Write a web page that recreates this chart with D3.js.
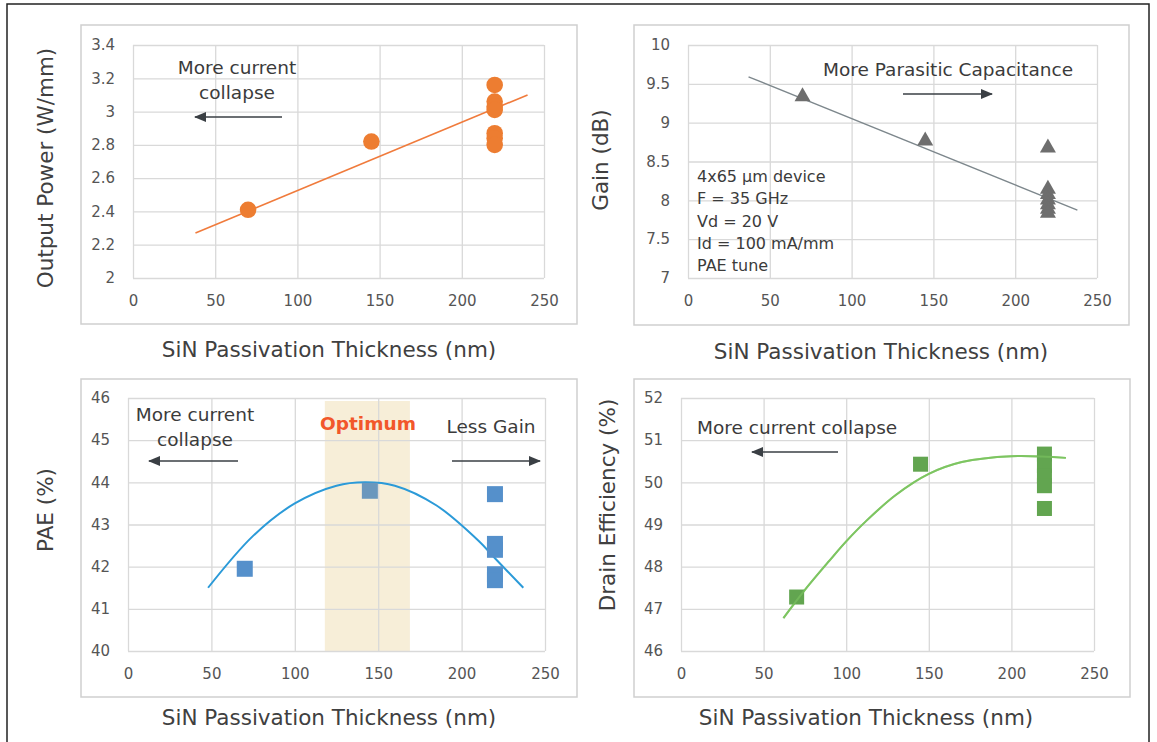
<!DOCTYPE html>
<html><head><meta charset="utf-8">
<script src="https://cdn.jsdelivr.net/npm/d3@7"></script>
<style>
html,body{margin:0;padding:0;background:#fff;}
svg text{font-family:"DejaVu Sans",Verdana,sans-serif;}
</style></head>
<body>
<svg id="c" width="1157" height="742"></svg>
<script>
// ---------- DATA ----------
const xTicks = [0, 50, 100, 150, 200, 250];
const xTitle = "SiN Passivation Thickness (nm)";

const powerTicks = [2, 2.2, 2.4, 2.6, 2.8, 3, 3.2, 3.4];
const powerX = [70, 145, 220, 220, 220, 220, 220, 220, 220];
const powerY = [2.41, 2.82, 3.16, 3.06, 3.03, 3.01, 2.87, 2.84, 2.80];
const powerTrendX = [38, 240];
const powerTrendY = [2.27, 3.10];

const gainTicks = [7, 7.5, 8, 8.5, 9, 9.5, 10];
const gainX = [70, 145, 220, 220, 220, 220, 220, 220, 220];
const gainY = [9.36, 8.79, 8.70, 8.17, 8.10, 8.03, 7.97, 7.91, 7.86];
const gainTrendX = [37, 238];
const gainTrendY = [9.59, 7.875];
const gainInfo = ["4x65 µm device", "F = 35 GHz", "Vd = 20 V", "Id = 100 mA/mm", "PAE tune"];

const paeTicks = [40, 41, 42, 43, 44, 45, 46];
const paeX = [70, 145, 220, 220, 220, 220, 220];
const paeY = [41.95, 43.8, 43.72, 42.54, 42.4, 41.82, 41.68];
const paeFitX = [48, 75, 100, 125, 142, 160, 185, 210, 220, 237];
const paeFitY = [41.5, 42.73, 43.5, 43.92, 44.0, 43.92, 43.45, 42.62, 42.2, 41.5];
const optimumRange = [118, 169];

const deTicks = [46, 47, 48, 49, 50, 51, 52];
const deX = [70, 145, 220, 220, 220, 220, 220];
const deY = [47.28, 50.43, 50.67, 50.4, 50.15, 49.92, 49.38];
const deFitX = [62, 75, 90, 100, 112, 130, 150, 170, 200, 233];
const deFitY = [46.78, 47.45, 48.15, 48.6, 49.08, 49.7, 50.2, 50.48, 50.62, 50.58];

// ---------- DRAW ----------
const svg = d3.select("#c");
svg.append("rect").attr("x", 7).attr("y", 4).attr("width", 1142).attr("height", 760)
  .attr("fill", "none").attr("stroke", "#222").attr("stroke-width", 1.5);

const defs = svg.append("defs");
defs.append("marker").attr("id", "ah").attr("viewBox", "0 0 12 10")
  .attr("refX", 11).attr("refY", 5).attr("markerWidth", 12).attr("markerHeight", 10)
  .attr("markerUnits", "userSpaceOnUse").attr("orient", "auto")
  .append("path").attr("d", "M0,0 L12,5 L0,10 Z").attr("fill", "#3a3f44");

function panel(o) {
  const g = svg.append("g");
  g.append("rect").attr("x", o.frame[0]).attr("y", o.frame[1])
    .attr("width", o.frame[2] - o.frame[0]).attr("height", o.frame[3] - o.frame[1])
    .attr("fill", "#fff").attr("stroke", "#cfcfcf").attr("stroke-width", 1.5);
  const x = d3.scaleLinear().domain([0, 250]).range([o.px[0], o.px[1]]);
  const y = d3.scaleLinear().domain([o.yTicks[0], o.yTicks[o.yTicks.length - 1]]).range([o.py[1], o.py[0]]);
  if (o.band) {
    g.append("rect").attr("x", x(o.band[0])).attr("y", o.bandTop)
      .attr("width", x(o.band[1]) - x(o.band[0])).attr("height", y(o.yTicks[0]) - o.bandTop)
      .attr("fill", "#f7eed8");
  }
  const gx = g.append("g").attr("transform", `translate(0,${o.py[1]})`)
    .call(d3.axisBottom(x).tickValues(xTicks).tickSize(-(o.py[1] - o.py[0])).tickPadding(17).tickFormat(d3.format("d")));
  const gy = g.append("g").attr("transform", `translate(${o.px[0]},0)`)
    .call(d3.axisLeft(y).tickValues(o.yTicks).tickSize(-(o.px[1] - o.px[0])).tickPadding(18).tickFormat(d => String(+d.toFixed(1))));
  [gx, gy].forEach(a => {
    a.select(".domain").remove();
    a.selectAll("line").attr("stroke", "#d9d9d9").attr("stroke-width", 1.3);
    a.selectAll("text").attr("fill", "#555").style("font-size", "15px");
  });
  gx.selectAll("text").attr("dy", "0.75em");
  g.append("text").attr("x", o.xt[0]).attr("y", o.xt[1]).attr("text-anchor", "middle")
    .attr("dominant-baseline", "central").attr("fill", "#404040").style("font-size", "21.5px").text(xTitle);
  g.append("text").attr("transform", `translate(${o.yt[0]},${o.yt[1]}) rotate(-90)`).attr("text-anchor", "middle")
    .attr("dominant-baseline", "central").attr("fill", "#404040").style("font-size", "21.5px").text(o.yTitle);
  return {g, x, y};
}

function line(g, x, y, xs, ys, color, w, curve) {
  g.append("path").datum(xs.map((d, i) => [d, ys[i]]))
    .attr("d", d3.line().x(d => x(d[0])).y(d => y(d[1])).curve(curve || d3.curveLinear))
    .attr("fill", "none").attr("stroke", color).attr("stroke-width", w);
}
function arrow(x1, y1, x2, y2) {
  svg.append("line").attr("x1", x1).attr("y1", y1).attr("x2", x2).attr("y2", y2)
    .attr("stroke", "#3a3f44").attr("stroke-width", 1.6).attr("marker-end", "url(#ah)");
}
function label(xp, yp, lines, opts) {
  opts = opts || {};
  const t = svg.append("text").attr("x", xp).attr("y", yp).attr("text-anchor", opts.anchor || "middle")
    .attr("fill", opts.color || "#3b3b3b").style("font-size", (opts.size || 18.5) + "px")
    .style("font-weight", opts.weight || "normal");
  lines.forEach((s, i) => t.append("tspan").attr("x", xp).attr("dy", i ? (opts.lh || 25) : 0).text(s));
}

// Panel 1: Output power
{
  const {g, x, y} = panel({frame: [81, 25, 577, 324], px: [133, 544], py: [45, 278], yTicks: powerTicks,
    yTitle: "Output Power (W/mm)", xt: [329, 349], yt: [45, 168]});
  line(g, x, y, powerTrendX, powerTrendY, "#f07b3c", 1.6);
  g.selectAll(".pt").data(powerX.map((d, i) => [d, powerY[i]])).join("circle")
    .attr("cx", d => x(d[0])).attr("cy", d => y(d[1])).attr("r", 8.3).attr("fill", "#ed7d31");
  label(237, 74, ["More current", "collapse"]);
  arrow(282, 117, 195, 117);
}
// Panel 2: Gain
{
  const {g, x, y} = panel({frame: [634, 25, 1129, 325], px: [688, 1097], py: [45, 278], yTicks: gainTicks,
    yTitle: "Gain (dB)", xt: [881, 351], yt: [600, 160]});
  line(g, x, y, gainTrendX, gainTrendY, "#7d878c", 1.4);
  g.selectAll(".tr").data(gainX.map((d, i) => [d, gainY[i]])).join("path")
    .attr("transform", d => `translate(${x(d[0])},${y(d[1])})`)
    .attr("d", "M0,-7.5 L8,6.5 L-8,6.5 Z").attr("fill", "#6e6e6e");
  label(823, 76, ["More Parasitic Capacitance"], {anchor: "start"});
  arrow(903, 94, 992, 94);
  label(697, 182, gainInfo, {anchor: "start", size: 16, lh: 22.3});
}
// Panel 3: PAE
{
  const {g, x, y} = panel({frame: [81, 379, 577, 697], px: [128, 545], py: [398, 651], yTicks: paeTicks,
    yTitle: "PAE (%)", xt: [329, 717], yt: [45, 510], band: optimumRange, bandTop: 401});
  line(g, x, y, paeFitX, paeFitY, "#2b9ad8", 2, d3.curveCatmullRom);
  g.selectAll(".sq").data(paeX.map((d, i) => [d, paeY[i]])).join("rect")
    .attr("x", d => x(d[0]) - 8).attr("y", d => y(d[1]) - 8).attr("width", 16).attr("height", 16)
    .attr("fill", (d, i) => i === 1 ? "#6a97bd" : "#5590cb");
  label(195, 421, ["More current", "collapse"]);
  arrow(238, 461, 149, 461);
  label(368, 430, ["Optimum"], {color: "#f2572a", weight: "bold", size: 18.5});
  label(491, 433, ["Less Gain"]);
  arrow(452, 461, 540, 461);
}
// Panel 4: Drain efficiency
{
  const {g, x, y} = panel({frame: [634, 379, 1130, 697], px: [681, 1094], py: [398, 651], yTicks: deTicks,
    yTitle: "Drain Efficiency (%)", xt: [866, 717], yt: [607, 505]});
  line(g, x, y, deFitX, deFitY, "#7dc561", 2, d3.curveCatmullRom);
  g.selectAll(".sq").data(deX.map((d, i) => [d, deY[i]])).join("rect")
    .attr("x", d => x(d[0]) - 7.5).attr("y", d => y(d[1]) - 7.5).attr("width", 15).attr("height", 15)
    .attr("fill", "#62a550");
  line(g, x, y, deFitX, deFitY, "rgba(125,197,97,0.6)", 2, d3.curveCatmullRom);
  label(697, 434, ["More current collapse"], {anchor: "start"});
  arrow(838, 452, 752, 452);
}
</script>
</body></html>
